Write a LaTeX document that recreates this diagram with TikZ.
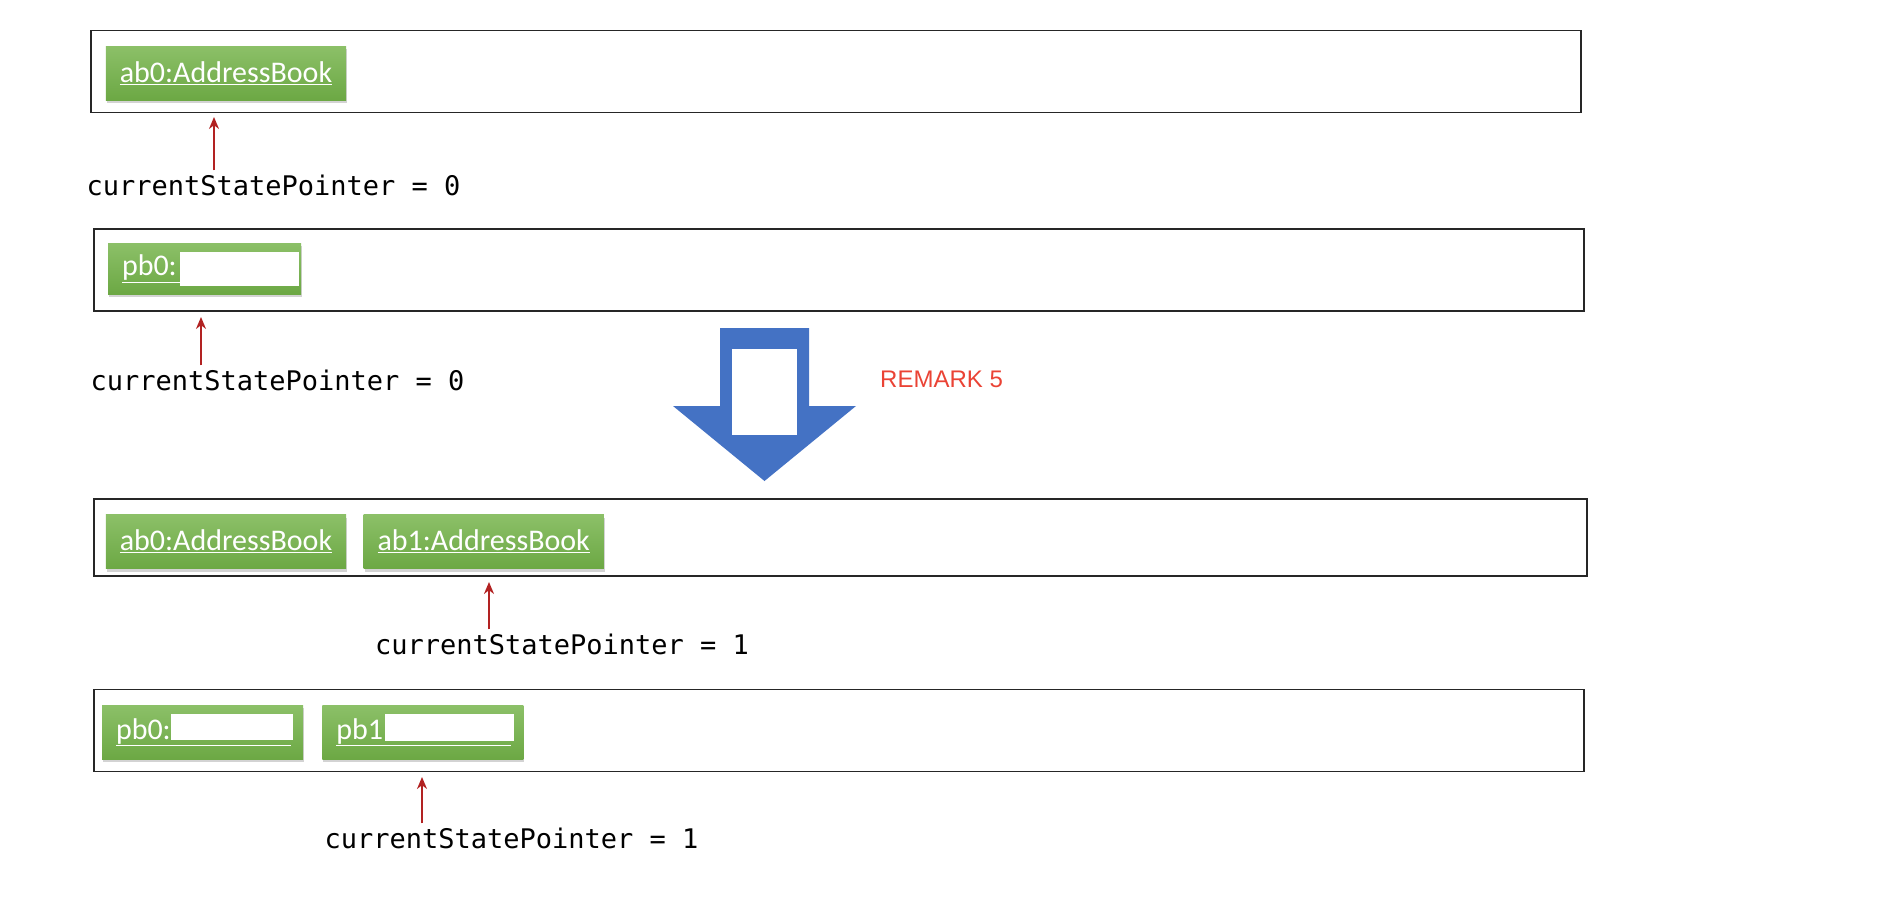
\documentclass[tikz,border=0pt]{standalone}
\usepackage{fontspec}
\setmainfont{Carlito}
\newfontfamily\ptrfont{DejaVu Sans Mono}
\newfontfamily\remarkfont{Liberation Sans}
\usetikzlibrary{positioning,arrows.meta,shadows}

\definecolor{objgreen}{RGB}{108,168,68}
\definecolor{objgreenlt}{RGB}{140,192,104}
\definecolor{bigblue}{RGB}{68,114,196}
\definecolor{ptrred}{RGB}{178,34,34}
\definecolor{remarkred}{RGB}{234,67,53}

\tikzset{
  frame/.style={draw=black!85, line width=1.6pt, minimum width=1490pt, minimum height=82pt, inner sep=0pt},
  objbox/.style={top color=objgreenlt, bottom color=objgreen, text=white, minimum height=54pt, inner xsep=14pt,
                 font=\fontsize{30}{34}\selectfont, drop shadow={opacity=0.35, shadow xshift=1pt, shadow yshift=-3pt}},
  pbox/.style={objbox, align=left},
  ptr/.style={draw=ptrred, line width=2pt, -{Stealth[length=12pt,width=10pt]}},
  ptrlabel/.style={font=\ptrfont\fontsize{27}{30}\selectfont, inner sep=4pt},
  remark/.style={text=remarkred, font=\remarkfont\fontsize{24}{28}\selectfont, inner sep=0pt},
}

\begin{document}
\begin{tikzpicture}[x=1pt, y=-1pt]

\useasboundingbox (0,0) rectangle (1898,916);

% before
    \node[frame] (f1) at (836,71.5) {};
    \node[objbox] (ab0old) at (226,73) {\underline{ab0:AddressBook}};
    \node[ptrlabel] (lbl1) at (273.5,185) {currentStatePointer = 0};
    \coordinate (t1) at (214,117);
    \draw[ptr] (lbl1.north -| t1) -- (t1);

    \node[frame] (f2) at (839,270) {};
    \node[pbox, text width=165pt, minimum height=51pt] (pb0old) at (204.5,268.5) {\underline{pb0:\hspace{4em}}};
    \fill[white] (180,252) rectangle (299,286);
    \node[ptrlabel] (lbl2) at (277.5,380) {currentStatePointer = 0};
    \coordinate (t2) at (201,317);
    \draw[ptr] (lbl2.north -| t2) -- (t2);

% big arrow
    \fill[bigblue] (720,328) -- (809,328) -- (809,406) -- (856,406) -- (764.5,481) -- (673,406) -- (720,406) -- cycle;
    \fill[white] (732,349) rectangle (797,435);
    \node[remark, anchor=west] (rem) at (880,379) {REMARK 5};

% after
    \node[frame, minimum width=1493pt, minimum height=77pt] (f3) at (840.5,537.5) {};
    \node[objbox] (ab0new) at (226,541.5) {\underline{ab0:AddressBook}};
    \node[objbox, right=17pt of ab0new] (ab1new) {\underline{ab1:AddressBook}};
    \node[ptrlabel] (lbl3) at (562,644) {currentStatePointer = 1};
    \coordinate (t3) at (489,582);
    \draw[ptr] (lbl3.north -| t3) -- (t3);

    \node[frame] (f4) at (839,730.5) {};
    \node[pbox, text width=173pt] (pb0new) at (202.5,732) {\underline{pb0:\hspace{4em}}};
    \node[pbox, text width=173pt, right=19pt of pb0new] (pb1new) {\underline{pb1:\hspace{4em}}};
    \fill[white] (171,714) rectangle (293,740);
    \fill[white] (385,714) rectangle (514,741);
    \node[ptrlabel] (lbl4) at (511.5,838) {currentStatePointer = 1};
    \coordinate (t4) at (422,777);
    \draw[ptr] (lbl4.north -| t4) -- (t4);

\end{tikzpicture}
\end{document}
